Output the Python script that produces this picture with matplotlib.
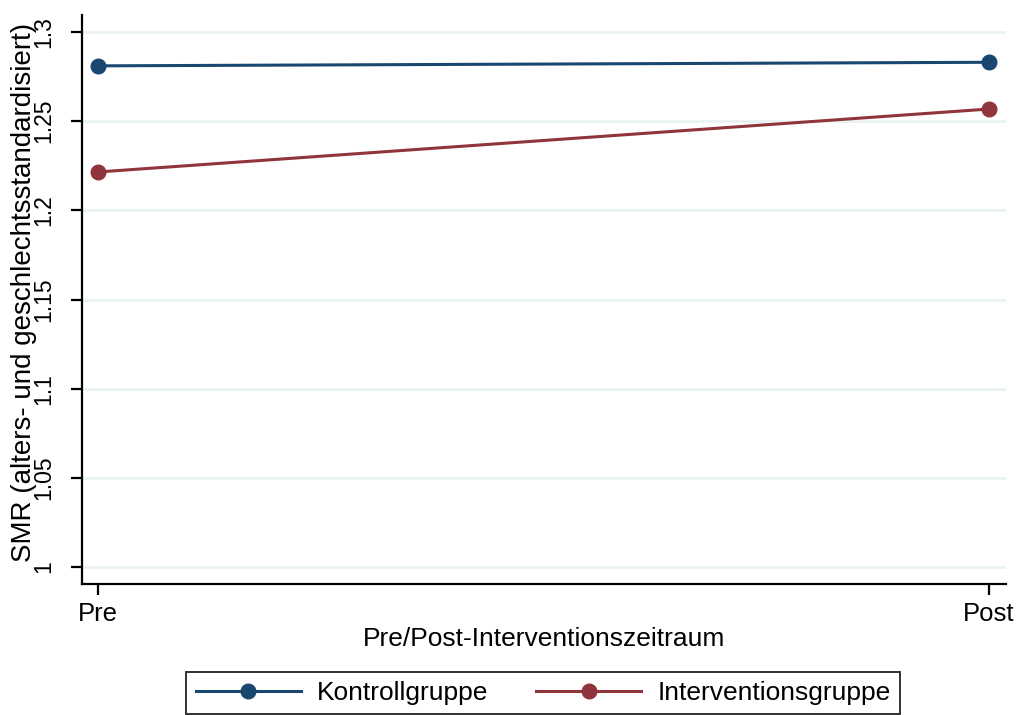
import matplotlib
matplotlib.use('Agg')
from matplotlib import pyplot as plt

plt.rcParams['font.family'] = ['Liberation Sans', 'DejaVu Sans']

# data
zeitraum = ['Pre', 'Post']
kontroll = [1.281, 1.283]
intervention = [1.2215, 1.2568]
y_ticks = [1.0, 1.05, 1.1, 1.15, 1.2, 1.25, 1.3]
y_ticklabels = ['1', '1.05', '1.1', '1.15', '1.2', '1.25', '1.3']

navy = '#1a476f'
maroon = '#90353b'
grid_col = '#eaf2f3'

fig = plt.figure(figsize=(10.17, 7.15), dpi=100)
ax = fig.add_axes([0.0806, 0.1832, 0.9086, 0.7958])

x = list(range(len(zeitraum)))
ax.plot(x, kontroll, color=navy, lw=2.2, marker='o', ms=10.5, label='Kontrollgruppe', zorder=3)
ax.plot(x, intervention, color=maroon, lw=2.2, marker='o', ms=10.5, label='Interventionsgruppe', zorder=3)

ax.set_xlim(-0.018, 1.019)
ax.set_ylim(0.9905, 1.3095)
ax.set_xticks(x)
ax.set_xticklabels(zeitraum, fontsize=18.5)
ax.set_yticks(y_ticks)
ax.set_yticklabels(y_ticklabels, fontsize=16.5, rotation=90, va='center')

ax.grid(axis='y', color=grid_col, lw=2)
ax.set_axisbelow(True)
for s in ['top', 'right']:
    ax.spines[s].set_visible(False)
for s in ['left', 'bottom']:
    ax.spines[s].set_linewidth(1.6)
ax.tick_params(axis='y', length=8, width=1.6, pad=11)
ax.tick_params(axis='x', length=8, width=1.6, pad=5)

ax.set_xlabel('Pre/Post-Interventionszeitraum', fontsize=19, labelpad=1)
ax.set_ylabel('SMR (alters- und geschlechtsstandardisiert)', fontsize=20)
ax.yaxis.set_label_coords(-0.049, 0.513)

leg = fig.legend(loc='upper center', bbox_to_anchor=(543 / 1017, 1 - 672 / 715),
                 ncol=2, fontsize=19, frameon=True, fancybox=False,
                 handlelength=4, handletextpad=0.6, columnspacing=1.8,
                 borderpad=0.35, borderaxespad=0)
leg.get_frame().set_edgecolor('black')
leg.get_frame().set_linewidth(1.4)

fig.savefig('out.png', dpi=100)
